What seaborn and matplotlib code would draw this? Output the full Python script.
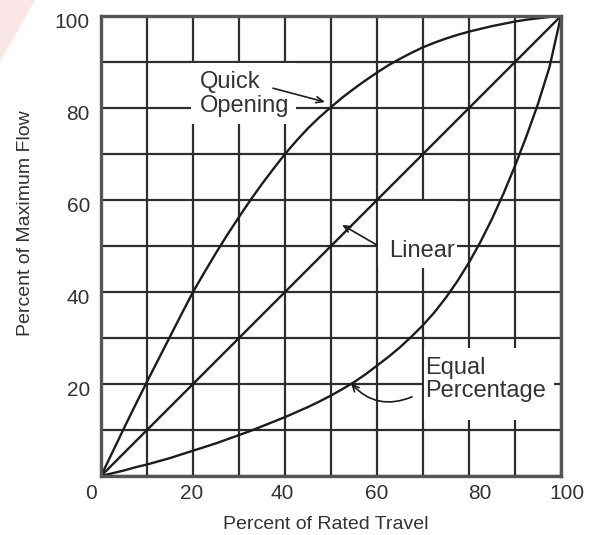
import numpy as np
import pandas as pd
import matplotlib
matplotlib.use("Agg")
import matplotlib.pyplot as plt
import matplotlib.transforms as mtransforms
from matplotlib.patches import Rectangle, Polygon
import seaborn as sns

# ─────────────────────────────────────────────
# Data
# ─────────────────────────────────────────────

travel = [0, 2.5, 5, 7.5, 10, 12.5, 15, 17.5, 20, 22.5, 25, 27.5, 30, 32.5, 35, 37.5, 40,
          42.5, 45, 47.5, 50, 52.5, 55, 57.5, 60, 62.5, 65, 67.5, 70, 72.5, 75, 77.5, 80,
          82.5, 85, 87.5, 90, 92.5, 95, 97.5, 100]

quick_flow = [0, 5.2, 10.4, 15.5, 20.5, 25.4, 30.3, 35.2, 40, 44.3, 48.5, 52.5, 56.3, 60.0,
              63.5, 66.8, 70.0, 72.9, 75.6, 78.0, 80.2, 82.3, 84.2, 86.0, 87.7, 89.3, 90.7,
              92.0, 93.2, 94.2, 95.1, 95.9, 96.6, 97.2, 97.8, 98.3, 98.8, 99.2, 99.5, 99.8, 100]

equal_flow = [0, 0.6, 1.2, 1.9, 2.5, 3.2, 3.9, 4.7, 5.5, 6.3, 7.1, 8.0, 8.9, 9.8, 10.8, 11.8,
              12.8, 13.9, 15.0, 16.2, 17.5, 18.9, 20.4, 22.1, 24.0, 25.9, 28.0, 30.3, 32.8,
              35.6, 38.8, 42.4, 46.4, 50.9, 55.9, 61.4, 67.4, 73.9, 80.9, 88.9, 100]

linear_travel = [0, 100]
linear_flow = [0, 100]

x_ticks = list(range(0, 101, 10))
x_tick_labels = ["0", "", "20", "", "40", "", "60", "", "80", "", "100"]
y_ticks = list(range(0, 101, 10))
y_tick_labels = ["", "", "20", "", "40", "", "60", "", "80", "", "100"]

series = [
    ("Quick Opening", travel, quick_flow),
    ("Linear", linear_travel, linear_flow),
    ("Equal Percentage", travel, equal_flow),
]

# ─────────────────────────────────────────────
# Style
# ─────────────────────────────────────────────

sns.set_style("white")
plt.rcParams["font.family"] = ["Liberation Sans", "DejaVu Sans"]

LINE_COLOR = "#1c1c1c"
GRID_COLOR = "#2e2e2e"
TEXT_COLOR = "#333333"

fig = plt.figure(figsize=(6.01, 5.35), dpi=100)
ax = fig.add_axes([101 / 601, 59 / 535, 460 / 601, 460 / 535])

# faint pink corner of the source page
fig.patches.append(Polygon([[0, 1], [35 / 601, 1], [0, 1 - 62 / 535]], closed=True,
                           transform=fig.transFigure, facecolor="#fbe6e7",
                           edgecolor="none", zorder=0))

for name, tx, fl in series:
    df = pd.DataFrame({"travel": tx, "flow": fl})
    sns.lineplot(data=df, x="travel", y="flow", ax=ax, color=LINE_COLOR,
                 linewidth=1.7, zorder=3, legend=False)

ax.set_xlim(0, 100)
ax.set_ylim(0, 100)
ax.set_xticks(x_ticks)
ax.set_xticklabels(x_tick_labels)
ax.set_yticks(y_ticks)
ax.set_yticklabels(y_tick_labels)
ax.set_axisbelow(True)
ax.grid(True, color=GRID_COLOR, linewidth=1.6)
ax.tick_params(length=0, labelsize=15, labelcolor=TEXT_COLOR)
ax.tick_params(axis="x", pad=6)
ax.tick_params(axis="y", pad=8)

for sp in ax.spines.values():
    sp.set_color("#555555")
    sp.set_linewidth(2.4)
    sp.set_zorder(5)

# small hand-placement nudges of tick labels
x_shift = [-9.5, 0, -1.5, 0, -2.5, 0, -0.5, 0, 11, 0, 6]
for lab, dx in zip(ax.get_xticklabels(), x_shift):
    lab.set_transform(lab.get_transform() +
                      mtransforms.ScaledTranslation(dx / 100, 0, fig.dpi_scale_trans))
for lab in ax.get_yticklabels():
    lab.set_transform(lab.get_transform() +
                      mtransforms.ScaledTranslation(0, -5 / 100, fig.dpi_scale_trans))

ax.set_xlabel("Percent of Rated Travel", fontsize=14, color=TEXT_COLOR)
ax.set_ylabel("Percent of Maximum Flow", fontsize=14, color=TEXT_COLOR)
ax.xaxis.set_label_coords(0.489, -0.088)
ax.yaxis.set_label_coords(-0.145, 0.55)

# white-out areas behind the curve labels
for (x0, x1, y0, y1) in [(19.6, 42.4, 76.6, 89.8), (60.3, 77.4, 45.2, 59.8), (70.3, 98.4, 12.2, 27.9)]:
    ax.add_patch(Rectangle((x0, y0), x1 - x0, y1 - y0, facecolor="white",
                           edgecolor="none", zorder=1))

ax.text(21.5, 83.0, "Quick\nOpening", fontsize=17, color=TEXT_COLOR,
        ha="left", va="center", linespacing=1.15, zorder=4)
ax.text(69.8, 49.0, "Linear", fontsize=17, color=TEXT_COLOR,
        ha="center", va="center", zorder=4)
ax.text(70.5, 21.0, "Equal\nPercentage", fontsize=17, color=TEXT_COLOR,
        ha="left", va="center", linespacing=1.1, zorder=4)

arrow = dict(arrowstyle="->,head_length=0.5,head_width=0.22", color=LINE_COLOR,
             linewidth=1.2, shrinkA=0, shrinkB=0)
ax.annotate("", xy=(48.7, 81.3), xytext=(37.4, 84.3), arrowprops=arrow, zorder=4)
ax.annotate("", xy=(52.4, 54.6), xytext=(60.0, 50.2), arrowprops=arrow, zorder=4)
ax.annotate("", xy=(54.3, 20.2), xytext=(67.6, 17.2),
            arrowprops=dict(arrow, connectionstyle="arc3,rad=-0.35"), zorder=4)

fig.savefig("out.png", dpi=100)
